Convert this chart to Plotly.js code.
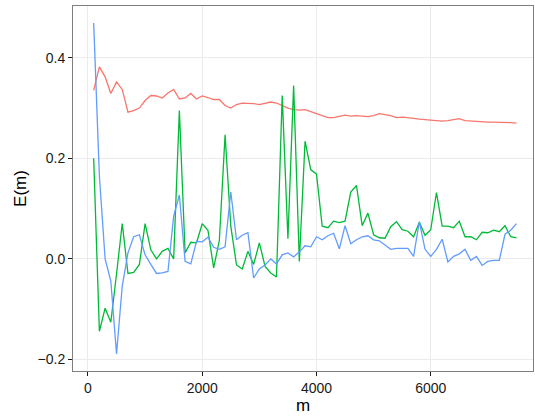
<!DOCTYPE html>
<html>
<head>
<meta charset="utf-8">
<script src="https://cdn.plot.ly/plotly-3.0.1.min.js"></script>
<style>html,body{margin:0;padding:0;background:#fff;}#chart{width:535px;height:418px;}</style>
</head>
<body>
<div id="chart"></div>
<script>
// m = 100 .. 7500 step 100
const mValues = Array.from({length: 75}, (_, i) => (i + 1) * 100);

const redSeries = [
  0.335, 0.382, 0.362, 0.329, 0.352, 0.337, 0.292, 0.295, 0.300, 0.315,
  0.325, 0.324, 0.320, 0.330, 0.337, 0.318, 0.320, 0.329, 0.318, 0.324,
  0.321, 0.317, 0.317, 0.305, 0.300, 0.307, 0.310, 0.310, 0.309, 0.307,
  0.309, 0.312, 0.310, 0.305, 0.300, 0.297, 0.296, 0.297, 0.293, 0.289,
  0.284, 0.281, 0.281, 0.284, 0.286, 0.284, 0.285, 0.284, 0.283, 0.285,
  0.289, 0.287, 0.285, 0.281, 0.282, 0.281, 0.279, 0.278, 0.277, 0.276,
  0.274, 0.274, 0.275, 0.277, 0.279, 0.275, 0.274, 0.273, 0.272, 0.272,
  0.272, 0.272, 0.272, 0.271, 0.270
];

const greenSeries = [
  0.200, -0.144, -0.098, -0.126, -0.030, 0.070, -0.029, -0.027, -0.011, 0.070,
  0.018, 0.000, 0.015, 0.021, 0.000, 0.295, 0.012, 0.033, 0.032, 0.070,
  0.057, -0.018, 0.037, 0.247, 0.065, -0.012, -0.020, 0.015, -0.011, 0.032,
  -0.015, -0.028, -0.036, 0.325, 0.040, 0.345, -0.005, 0.234, 0.177, 0.169,
  0.065, 0.062, 0.075, 0.072, 0.075, 0.133, 0.146, 0.066, 0.091, 0.048,
  0.042, 0.041, 0.064, 0.074, 0.058, 0.055, 0.044, 0.073, 0.047, 0.058,
  0.132, 0.065, 0.065, 0.062, 0.075, 0.044, 0.044, 0.038, 0.053, 0.052,
  0.057, 0.054, 0.066, 0.044, 0.042
];

const blueSeries = [
  0.469, 0.165, 0.000, -0.044, -0.189, -0.054, 0.012, 0.044, 0.048, 0.008,
  -0.011, -0.029, -0.028, -0.025, 0.085, 0.127, -0.005, -0.010, 0.035, 0.034,
  0.043, 0.023, 0.019, 0.024, 0.133, 0.038, 0.047, 0.052, -0.038, -0.020,
  -0.012, 0.000, -0.010, 0.008, 0.012, 0.004, 0.014, 0.026, 0.024, 0.044,
  0.038, 0.046, 0.051, 0.020, 0.066, 0.030, 0.038, 0.044, 0.046, 0.038,
  0.036, 0.028, 0.019, 0.021, 0.021, 0.021, 0.005, 0.074, 0.019, 0.005,
  0.019, 0.039, -0.006, 0.005, 0.010, 0.019, -0.003, 0.005, -0.013, -0.005,
  -0.003, -0.003, 0.049, 0.057, 0.070
];

const xTicks = [0, 2000, 4000, 6000];
const xTickLabels = ['0', '2000', '4000', '6000'];
const yTicks = [-0.2, 0.0, 0.2, 0.4];
const yTickLabels = ['\u22120.2', '0.0', '0.2', '0.4'];

const lineW = 1.3;
const traces = [
  {x: mValues, y: redSeries, type: 'scatter', mode: 'lines', line: {color: '#F8766D', width: lineW}, hoverinfo: 'skip'},
  {x: mValues, y: greenSeries, type: 'scatter', mode: 'lines', line: {color: '#00BA38', width: lineW}, hoverinfo: 'skip'},
  {x: mValues, y: blueSeries, type: 'scatter', mode: 'lines', line: {color: '#619CFF', width: lineW}, hoverinfo: 'skip'}
];

const fontFam = 'Liberation Sans, Arial, sans-serif';
const axisCommon = {
  showgrid: true,
  gridcolor: '#EBEBEB',
  gridwidth: 1,
  zeroline: false,
  showline: true,
  mirror: true,
  linecolor: '#7F7F7F',
  linewidth: 1,
  ticks: 'outside',
  ticklen: 4,
  tickwidth: 1,
  tickcolor: '#1A1A1A',
  tickfont: {family: fontFam, size: 14, color: '#1A1A1A'}
};

const layout = {
  width: 535,
  height: 418,
  margin: {l: 73, r: 2, t: 6, b: 47},
  paper_bgcolor: '#FFFFFF',
  plot_bgcolor: '#FFFFFF',
  showlegend: false,
  xaxis: Object.assign({}, axisCommon, {
    range: [-262, 7790],
    tickmode: 'array',
    tickvals: xTicks,
    ticktext: xTickLabels,
    title: {text: 'm', font: {family: fontFam, size: 17, color: '#000'}, standoff: 2}
  }),
  yaxis: Object.assign({}, axisCommon, {
    range: [-0.223, 0.503],
    tickmode: 'array',
    tickvals: yTicks,
    ticktext: yTickLabels,
    title: {text: 'E(m)', font: {family: fontFam, size: 17, color: '#000'}, standoff: 6}
  })
};

Plotly.newPlot('chart', traces, layout, {staticPlot: true, displayModeBar: false});
</script>
</body>
</html>
